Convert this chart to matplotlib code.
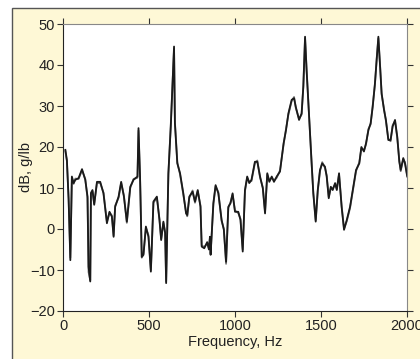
import numpy as np
import matplotlib.pyplot as plt
from matplotlib.patches import Rectangle

plt.rcParams['font.family'] = ['Liberation Sans', 'DejaVu Sans']

# frequency response
freq = [12, 21, 31, 41, 50, 60, 70, 89, 109, 128, 141, 147, 157, 161, 170, 180,
        196, 215, 234, 254, 269, 283, 293, 302, 322, 337, 353, 370, 390, 409,
        432, 438, 447, 457, 467, 481, 496, 510, 525, 545, 560, 570, 583, 593,
        599, 612, 626, 645, 650, 664, 680, 699, 715, 722, 734, 753, 767, 783,
        799, 806, 821, 838, 848, 854, 858, 874, 887, 903, 922, 935, 948, 961,
        974, 986, 1000, 1019, 1032, 1045, 1058, 1071, 1083, 1096, 1116, 1130,
        1146, 1162, 1175, 1188, 1200, 1214, 1227, 1243, 1262, 1283, 1297, 1311,
        1330, 1344, 1354, 1373, 1388, 1398, 1408, 1417, 1433, 1447, 1456, 1470,
        1482, 1495, 1508, 1524, 1534, 1546, 1558, 1569, 1583, 1593, 1606, 1621,
        1635, 1651, 1670, 1686, 1705, 1724, 1736, 1751, 1763, 1777, 1790, 1802,
        1815, 1825, 1835, 1845, 1854, 1868, 1879, 1893, 1906, 1918, 1932, 1945,
        1957, 1965, 1980, 1990, 2003]

db_a = [19.3, 16.8, 7.1, -7.6, 12.8, 11.2, 12.0, 12.4, 14.6, 12.0, 7.9, -9.2,
        -12.8, 8.8, 9.5, 5.9, 11.5, 11.5, 8.7, 1.4, 4.2, 3.0, -1.9, 5.4, 7.9,
        11.5, 7.9, 1.8, 10.3, 12.0, 12.8, 24.6, 12.8, -6.8, -6.3, 0.6, -1.9,
        -10.4, 6.7, 7.9, 2.2, -2.7, 1.8, -1.0, -13.2, 13.6, 25.0, 44.5, 25.8,
        16.0, 13.6, 8.7, 3.8, 3.4, 7.9, 9.1, 6.7, 9.5, 5.4, -4.3, -4.7, -3.2,
        -5.0, -1.9, -6.3, 6.3, 10.7, 8.7, 2.2, -0.2, -8.0, 5.4, 6.3, 8.7, 4.2,
        4.2, 2.2, -5.5, 9.5, 12.8, 11.2, 12.0, 16.4, 16.4, 12.8, 9.9, 3.8, 13.6,
        11.5, 12.8, 11.5, 12.8, 14.0, 20.9, 24.1, 28.2, 31.5, 31.9, 29.8, 26.6,
        28.2, 34.7, 46.9, 38.7, 26.6, 15.6, 8.7, 1.8, 9.5, 14.4, 16.0, 15.2,
        12.8, 7.5, 10.3, 9.5, 11.2, 9.5, 13.6, 5.4, -0.2, 2.2, 5.4, 9.5, 14.4,
        16.0, 20.0, 18.9, 20.9, 24.1, 25.8, 29.8, 35.5, 41.2, 46.9, 39.6, 33.1,
        29.0, 26.6, 21.7, 21.7, 25.0, 26.6, 22.5, 16.4, 14.4, 17.3, 16.0, 12.8]

db_b = [19.0, 16.5, 7.5, -7.0, 12.5, 11.0, 12.3, 12.2, 14.3, 12.2, 7.5, -10.5,
        -12.5, 8.5, 9.2, 6.2, 11.2, 11.2, 8.9, 1.8, 4.0, 3.3, -1.6, 5.7, 7.6,
        11.2, 8.2, 1.5, 10.0, 12.2, 12.5, 24.0, 12.5, -7.0, -6.0, 0.3, -1.5,
        -10.0, 6.4, 7.6, 2.5, -2.4, 1.5, -0.7, -12.8, 13.2, 25.5, 44.0, 26.2,
        16.3, 13.3, 8.4, 4.1, 3.1, 7.6, 9.4, 6.4, 9.2, 5.7, -4.0, -4.4, -3.5,
        -4.7, -2.2, -6.0, 6.0, 10.4, 9.0, 1.9, 0.1, -8.5, 5.1, 6.6, 8.4, 4.5,
        3.9, 2.5, -5.0, 9.2, 12.5, 11.5, 11.7, 16.1, 16.7, 12.5, 10.2, 4.2, 13.3,
        11.8, 12.5, 11.8, 12.5, 14.3, 20.6, 24.4, 27.9, 31.2, 32.2, 29.5, 26.9,
        27.9, 35.0, 46.5, 39.0, 26.3, 15.3, 9.0, 2.1, 9.2, 14.1, 16.3, 14.9,
        13.1, 7.8, 10.0, 9.8, 10.9, 9.8, 13.3, 5.7, 0.1, 1.9, 5.1, 9.2, 14.1,
        16.3, 19.7, 19.2, 20.6, 24.4, 25.5, 30.1, 35.2, 41.5, 46.5, 39.9, 32.8,
        29.3, 26.3, 22.0, 21.4, 25.3, 26.3, 22.2, 16.7, 14.1, 17.0, 16.3, 13.1]

xticks = [0, 500, 1000, 1500, 2000]
yticks = [-20, -10, 0, 10, 20, 30, 40, 50]

fig = plt.figure(figsize=(4.2, 3.59), dpi=100)
fig.patch.set_facecolor('white')
fig.patches.append(Rectangle((12 / 420, -0.05), 1.1, 1 - 8 / 359 + 0.05,
                             transform=fig.transFigure, facecolor='#fef8d6',
                             edgecolor='#555555', lw=1.0, zorder=-5))

ax = fig.add_axes([63.3 / 420, 48 / 359, (406.7 - 63.3) / 420, (311 - 24) / 359])
ax.set_zorder(2)
ax.set_facecolor('white')
ax.plot(freq, db_b, color='#777777', lw=1.3)
ax.plot(freq, db_a, color='#1a1a1a', lw=1.3)

ax.set_xlim(0, 2000)
ax.set_ylim(-20, 50)
ax.set_xticks(xticks)
ax.set_yticks(yticks)
ax.tick_params(labelsize=10.5, length=4.5, width=0.8, color='#333333', pad=1.5,
               labelcolor='#222222')
ax.tick_params(top=True, right=True, labeltop=False, labelright=False)
for s in ['left', 'bottom']:
    ax.spines[s].set_color('#222222')
for s in ['top', 'right']:
    ax.spines[s].set_color('#888888')
ax.set_xlabel('Frequency, Hz', fontsize=10.5, color='#222222')
ax.set_ylabel('dB, g/lb', fontsize=10.5, color='#222222')
ax.xaxis.set_label_coords(0.5, -0.084)
ax.yaxis.set_label_coords(-0.088, 0.5)

fig.savefig('out.png', dpi=100)
